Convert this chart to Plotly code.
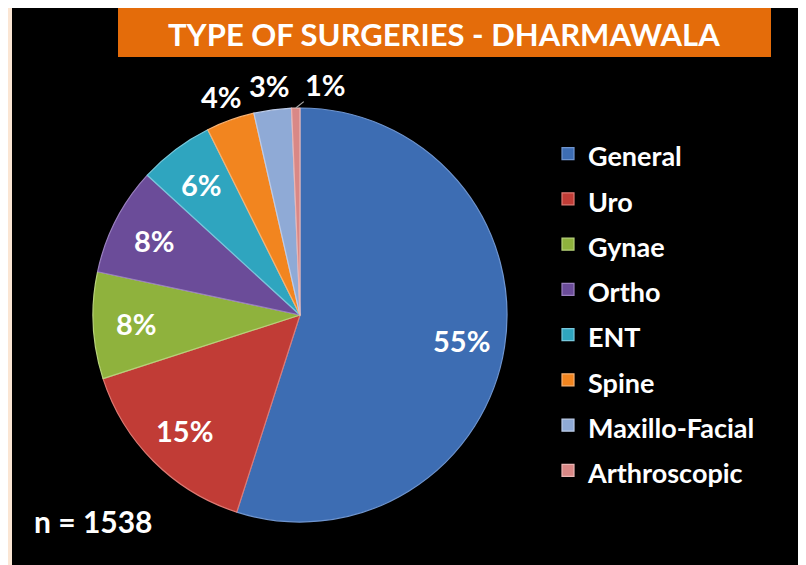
import math
import plotly.graph_objects as go

# surgery counts (n = 1538)
categories = ["General", "Uro", "Gynae", "Ortho", "ENT", "Spine", "Maxillo-Facial", "Arthroscopic"]
counts = [845, 232, 128, 130, 90, 58, 45, 10]
total_n = 1538

colors = ["#3d6db3", "#c13c36", "#8fb23d", "#6b4c99", "#2fa5bf", "#f2851f", "#8faad6", "#d98886"]
edge_colors = ["#6f95cf", "#de7a74", "#b7d27a", "#9a80c0", "#78c8dc", "#f7b274", "#bccbe8", "#eab5b3"]
label_inside = [True] * 5 + [False] * 3

W, H = 806, 565
FONT = "Lato"

# pie geometry in pixels (page is offset 8px by the browser body margin)
cx, cy, R = 292, 307, 207

fig = go.Figure(go.Pie(
    labels=[f'<span style="font-size:27px"><b>{c}</b></span>' for c in categories],
    values=counts,
    sort=False,
    direction="clockwise",
    rotation=0,
    marker=dict(colors=colors, line=dict(color=edge_colors, width=1.2)),
    textinfo="none",
    domain=dict(x=[(cx - R) / W, (cx + R) / W], y=[(H - cy - R) / H, (H - cy + R) / H]),
    hovertext=categories,
    hoverinfo="text+value+percent",
))


def to_paper(px, py):
    return px / W, 1 - py / H


# percentage labels placed along each slice's bisector
annotations = []
cum = 0
for name, c, inside in zip(categories, counts, label_inside):
    mid = (cum + c / 2) / total_n * 2 * math.pi
    cum += c
    pct = f"<b>{round(100 * c / total_n)}%</b>"
    font = dict(family=FONT, size=29, color="white")
    if inside or c / total_n > 0.02:
        r = (0.79 if inside else 1.12) * R
        x, y = to_paper(cx + r * math.sin(mid), cy - r * math.cos(mid))
        annotations.append(dict(text=pct, x=x, y=y, xref="paper", yref="paper",
                                xanchor="center", yanchor="middle",
                                showarrow=False, font=font))
    else:
        # thin slice: label pulled aside with a leader line
        x, y = to_paper(cx + R * math.sin(mid), cy - R * math.cos(mid))
        annotations.append(dict(text=pct, x=x, y=y, xref="paper", yref="paper",
                                showarrow=True, arrowhead=0, arrowwidth=1.2,
                                arrowcolor="#a6a6a6", ax=30, ay=-24, font=font))

annotations += [
    dict(text="<b>TYPE OF SURGERIES - DHARMAWALA</b>", xref="paper", yref="paper",
         x=436 / W, y=1 - 26 / H, xanchor="center", yanchor="middle", showarrow=False,
         font=dict(family=FONT, size=31, color="white")),
    dict(text=f"<b>n = {total_n}</b>", xref="paper", yref="paper",
         x=24 / W, y=1 - 513 / H, xanchor="left", yanchor="middle", showarrow=False,
         font=dict(family=FONT, size=30, color="white")),
]

fig.update_layout(
    width=W, height=H,
    margin=dict(l=0, r=0, t=0, b=0),
    paper_bgcolor="black",
    plot_bgcolor="black",
    showlegend=True,
    legend=dict(
        xref="paper", yref="paper",
        x=540 / W, y=1 - 118 / H,
        xanchor="left", yanchor="top",
        bgcolor="rgba(0,0,0,0)",
        # large base size only sets row spacing; labels carry their own size
        font=dict(family=FONT, size=32.5, color="white"),
        itemclick=False,
    ),
    shapes=[
        # peach page border on the left
        dict(type="rect", xref="paper", yref="paper", x0=0, x1=4 / W, y0=0, y1=1,
             fillcolor="#fbe6d4", line_width=0, layer="above"),
        # orange title banner
        dict(type="rect", xref="paper", yref="paper", x0=110 / W, x1=763 / W,
             y0=1 - 49 / H, y1=1, fillcolor="#e46c0a", line_width=0, layer="below"),
    ],
    annotations=annotations,
)

fig.write_html("out.html")
